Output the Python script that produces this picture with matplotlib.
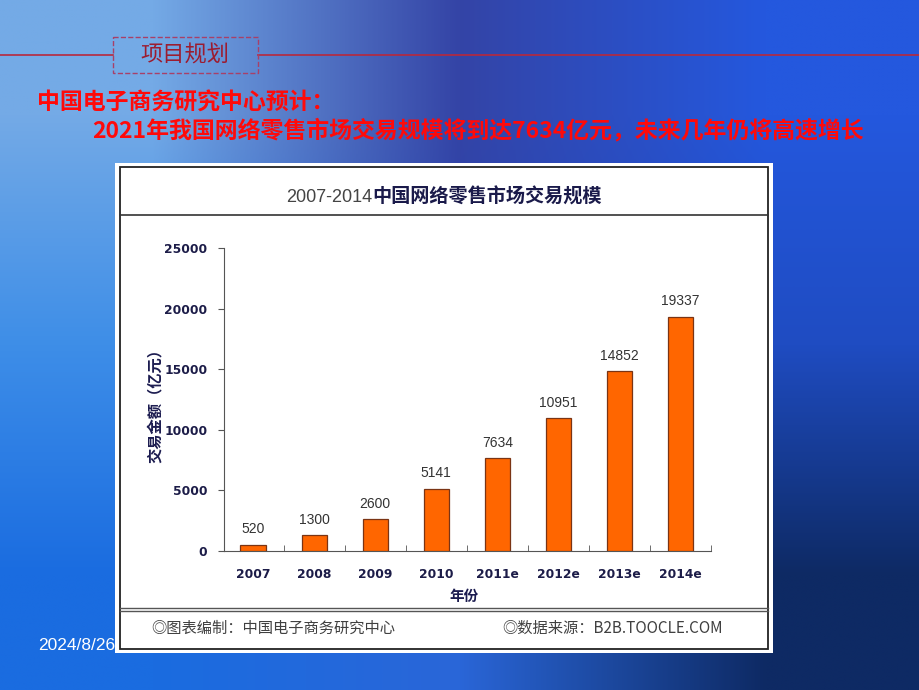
import numpy as np
import matplotlib.pyplot as plt
from matplotlib.colors import to_rgb
from matplotlib.patches import Rectangle

# chart data
years = ['2007', '2008', '2009', '2010', '2011e', '2012e', '2013e', '2014e']
amounts = [520, 1300, 2600, 5141, 7634, 10951, 14852, 19337]
y_ticks = [0, 5000, 10000, 15000, 20000, 25000]

CJK = ['Noto Sans CJK SC', 'DejaVu Sans']
plt.rcParams['font.family'] = CJK

fig = plt.figure(figsize=(9.2, 6.9), dpi=100)

# slide layer in pixel coordinates
bg = fig.add_axes([0, 0, 1, 1])
bg_colors = [
    ['#74aae6', '#3444a6', '#2458de'],
    ['#3e8ee8', '#2a42aa', '#1f4cc2'],
    ['#1a6ce0', '#2a66d8', '#0e2a64'],
]
grad = np.array([[to_rgb(c) for c in row] for row in bg_colors])
bg.imshow(grad, extent=(0, 920, 690, 0), interpolation='bilinear', aspect='auto', zorder=0)
bg.set_xlim(0, 920)
bg.set_ylim(690, 0)
bg.axis('off')

# heading
bg.plot([0, 113], [55, 55], color='#b8283c', lw=1.2, zorder=1)
bg.plot([258, 920], [55, 55], color='#b8283c', lw=1.2, zorder=1)
bg.add_patch(Rectangle((113, 37), 145, 36, fill=False, ls='--', ec='#a84068', lw=1, zorder=1))
bg.text(185, 55, '项目规划', color='#9c1c30', fontsize=16, ha='center', va='center')

bg.text(37, 103, '中国电子商务研究中心预计：', color='#ff0a0a', fontsize=16.5,
        fontweight='bold', ha='left', va='center')
bg.text(92, 131, '2021年我国网络零售市场交易规模将到达7634亿元，未来几年仍将高速增长',
        color='#ff0a0a', fontsize=16.5, fontweight='bold', ha='left', va='center')

bg.text(38, 645, '2024/8/26', color='white', fontsize=12.5, family='Liberation Sans',
        ha='left', va='center', zorder=2)

# chart panel
bg.add_patch(Rectangle((115, 163), 658, 490, fc='white', ec='none', zorder=3))
bg.add_patch(Rectangle((120, 167), 648, 482, fill=False, ec='#222222', lw=1.3, zorder=4))
bg.plot([120, 768], [215, 215], color='#333333', lw=1.2, zorder=4)
bg.plot([120, 768], [608, 608], color='#555555', lw=1, zorder=4)
bg.plot([120, 768], [611, 611], color='#555555', lw=1, zorder=4)

bg.text(372, 197, '2007-2014', color='#444444', fontsize=13, family='Liberation Sans',
        ha='right', va='center', zorder=5)
bg.text(372, 197, '中国网络零售市场交易规模', color='#1a1a4a', fontsize=13.8,
        fontweight='bold', ha='left', va='center', zorder=5)

bg.text(155, 402, '交易金额（亿元）', color='#1c1c50', fontsize=11, fontweight='bold',
        rotation=90, ha='center', va='center', zorder=5)
bg.text(464, 596, '年份', color='#1c1c50', fontsize=10.5, fontweight='bold',
        ha='center', va='center', zorder=5)

bg.text(151, 628, '◎图表编制：中国电子商务研究中心', color='#404040', fontsize=11,
        ha='left', va='center', zorder=5)
bg.text(502, 628, '◎数据来源：B2B.TOOCLE.COM', color='#404040', fontsize=11,
        ha='left', va='center', zorder=5)

# bar chart
ax = fig.add_axes([224 / 920, 1 - 551 / 690, (711 - 224) / 920, (551 - 248) / 690])
ax.patch.set_alpha(0)
x = np.arange(len(years))
ax.bar(x, amounts, width=0.41, color='#ff6600', edgecolor='#7a3414', lw=0.9, zorder=3)
for i, v in enumerate(amounts):
    ax.annotate(str(v), (i, v), xytext=(0, 6), textcoords='offset points',
                ha='center', va='bottom', fontsize=10, family='Liberation Sans',
                color='#333333')

ax.set_xlim(-0.475, 7.5)
ax.set_ylim(0, 25000)
ax.set_yticks(y_ticks)
ax.set_xticks(x, years)
ax.set_xticks(np.arange(0.5, 8, 1), minor=True)
ax.tick_params(axis='x', which='major', length=0, pad=12)
ax.tick_params(axis='x', which='minor', direction='in', length=4, color='#555555')
ax.tick_params(axis='y', direction='out', length=4, pad=8, color='#555555')
for lab in ax.get_xticklabels() + ax.get_yticklabels():
    lab.set_family('DejaVu Sans')
    lab.set_fontweight('bold')
    lab.set_fontsize(8.8)
    lab.set_color('#1c1c48')
for s in ['top', 'right']:
    ax.spines[s].set_visible(False)
for s in ['left', 'bottom']:
    ax.spines[s].set_color('#555555')

fig.savefig('out.png', dpi=100)
